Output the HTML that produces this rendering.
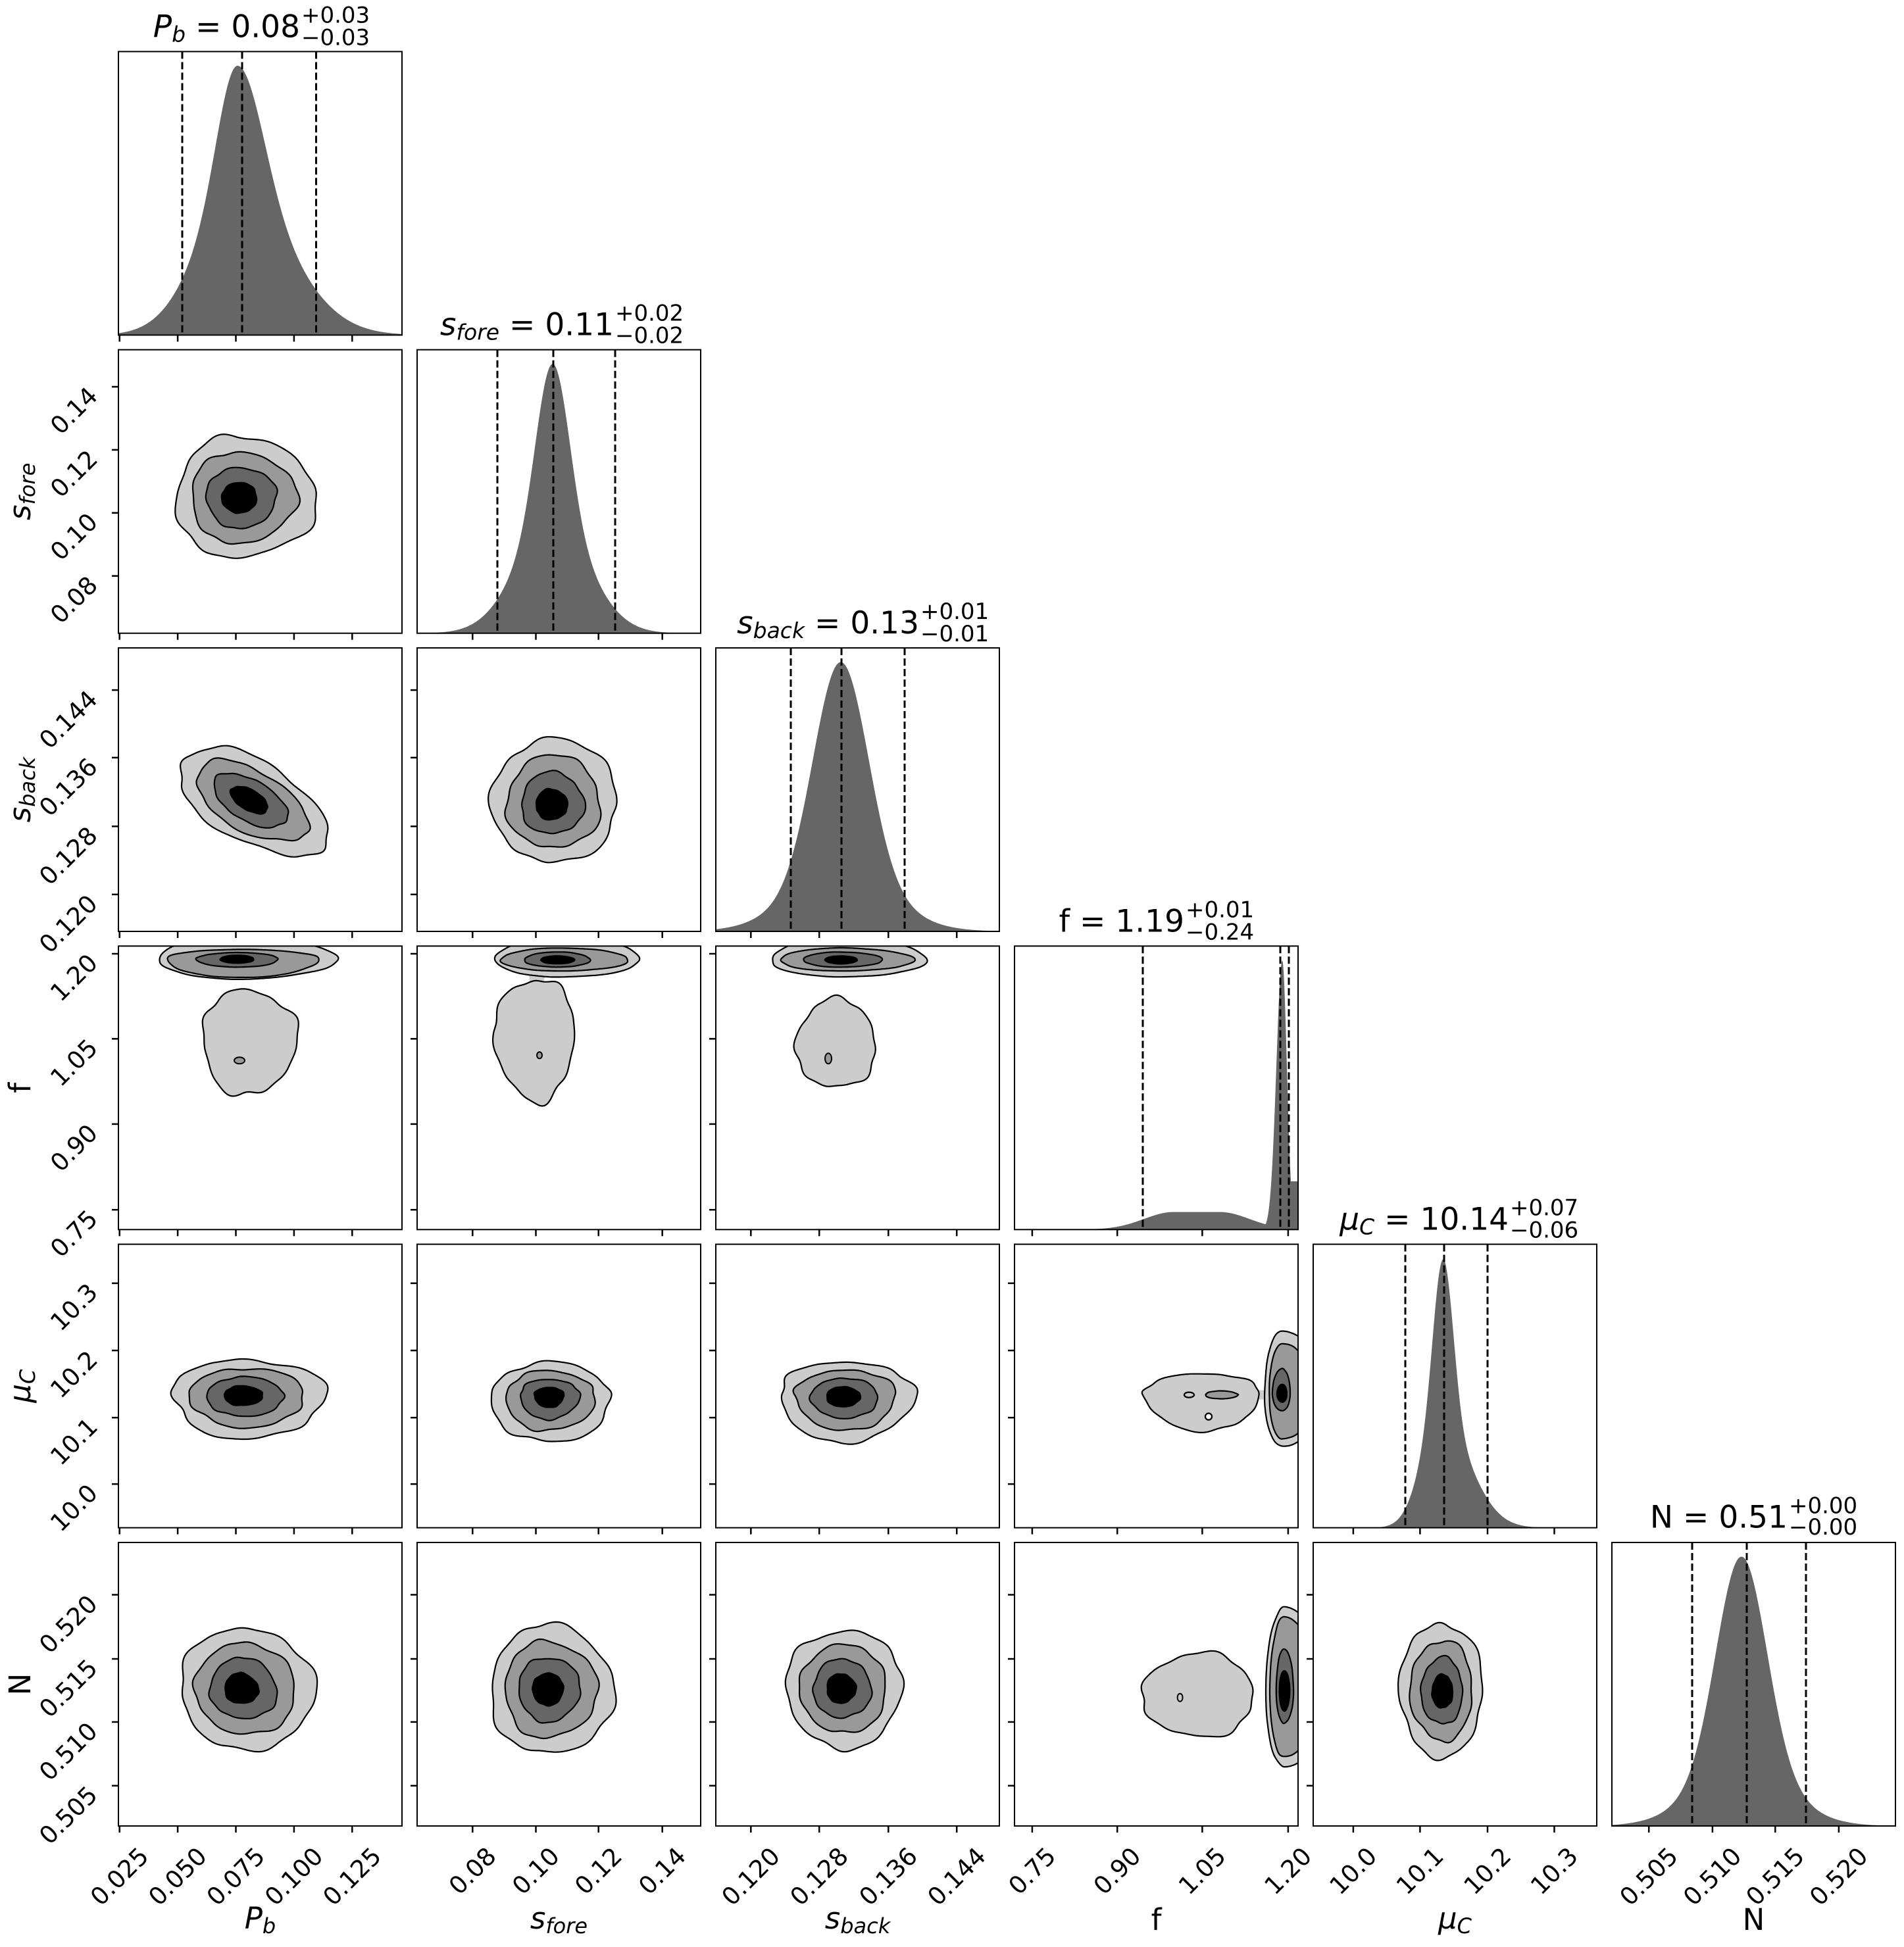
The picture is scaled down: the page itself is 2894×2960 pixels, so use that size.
<!DOCTYPE html>
<html><head><meta charset="utf-8"><style>
body{margin:0;background:#fff}
svg text{font-family:"DejaVu Sans","Liberation Sans",sans-serif;fill:#000}
.t{font-size:37px}
.m{font-size:47px}
.sc{font-size:34px}
.al{font-size:45px}
</style></head>
<body>
<svg id="s" width="2894" height="2955" viewBox="0 0 2894 2955" xmlns="http://www.w3.org/2000/svg">
<rect width="2894" height="2955" fill="#fff"/>
<defs id="defs"></defs>
<g id="g"></g>

<text class="m" x="456" y="56.4" text-anchor="end"><tspan font-style="italic">P</tspan><tspan font-size="33" dy="7" font-style="italic">b</tspan><tspan dy="-7"> = 0.08</tspan></text>
<text class="sc" x="458" y="34.4">+0.03</text><text class="sc" x="458" y="68.4">−0.03</text>

<text class="m" x="933" y="509.7" text-anchor="end"><tspan font-style="italic">s</tspan><tspan font-size="33" dy="7" font-style="italic">fore</tspan><tspan dy="-7"> = 0.11</tspan></text>
<text class="sc" x="935" y="487.7">+0.02</text><text class="sc" x="935" y="521.7">−0.02</text>

<text class="m" x="1397" y="963" text-anchor="end"><tspan font-style="italic">s</tspan><tspan font-size="33" dy="7" font-style="italic">back</tspan><tspan dy="-7"> = 0.13</tspan></text>
<text class="sc" x="1399" y="941">+0.01</text><text class="sc" x="1399" y="975">−0.01</text>

<text class="m" x="1800" y="1416.3" text-anchor="end">f = 1.19</text>
<text class="sc" x="1802" y="1394.3">+0.01</text><text class="sc" x="1802" y="1428.3">−0.24</text>

<text class="m" x="2293" y="1869.6" text-anchor="end"><tspan font-style="italic">μ</tspan><tspan font-size="33" dy="7" font-style="italic">C</tspan><tspan dy="-7"> = 10.14</tspan></text>
<text class="sc" x="2295" y="1847.6">+0.07</text><text class="sc" x="2295" y="1881.6">−0.06</text>

<text class="m" x="2717" y="2322.5" text-anchor="end">N = 0.51</text>
<text class="sc" x="2719" y="2300.5">+0.00</text><text class="sc" x="2719" y="2333">−0.00</text>

<g class="t" text-anchor="middle" dominant-baseline="central">
<text transform="translate(181.7,2853) rotate(-45)">0.025</text>
<text transform="translate(270.1,2853) rotate(-45)">0.050</text>
<text transform="translate(358.5,2853) rotate(-45)">0.075</text>
<text transform="translate(446.9,2853) rotate(-45)">0.100</text>
<text transform="translate(535.3,2853) rotate(-45)">0.125</text>
<text transform="translate(718.3,2844.5) rotate(-45)">0.08</text>
<text transform="translate(814.5,2844.5) rotate(-45)">0.10</text>
<text transform="translate(909.7,2844.5) rotate(-45)">0.12</text>
<text transform="translate(1006.7,2844.5) rotate(-45)">0.14</text>
<text transform="translate(1141.3,2853) rotate(-45)">0.120</text>
<text transform="translate(1245.2,2853) rotate(-45)">0.128</text>
<text transform="translate(1350.3,2853) rotate(-45)">0.136</text>
<text transform="translate(1454.2,2853) rotate(-45)">0.144</text>
<text transform="translate(1568.9,2844.5) rotate(-45)">0.75</text>
<text transform="translate(1698.2,2844.5) rotate(-45)">0.90</text>
<text transform="translate(1827.4,2844.5) rotate(-45)">1.05</text>
<text transform="translate(1957.9,2844.5) rotate(-45)">1.20</text>
<text transform="translate(2056.9,2844.5) rotate(-45)">10.0</text>
<text transform="translate(2158.4,2844.5) rotate(-45)">10.1</text>
<text transform="translate(2261,2844.5) rotate(-45)">10.2</text>
<text transform="translate(2362.5,2844.5) rotate(-45)">10.3</text>
<text transform="translate(2506.2,2853) rotate(-45)">0.505</text>
<text transform="translate(2602.9,2853) rotate(-45)">0.510</text>
<text transform="translate(2698.3,2853) rotate(-45)">0.515</text>
<text transform="translate(2794.9,2853) rotate(-45)">0.520</text>
<text transform="translate(112.5,912.1) rotate(-45)">0.08</text>
<text transform="translate(112.5,816.2) rotate(-45)">0.10</text>
<text transform="translate(112.5,720.4) rotate(-45)">0.12</text>
<text transform="translate(112.5,624.5) rotate(-45)">0.14</text>
<text transform="translate(104,1404.8) rotate(-45)">0.120</text>
<text transform="translate(104,1301.3) rotate(-45)">0.128</text>
<text transform="translate(104,1196.8) rotate(-45)">0.136</text>
<text transform="translate(104,1094.1) rotate(-45)">0.144</text>
<text transform="translate(112.5,1875.7) rotate(-45)">0.75</text>
<text transform="translate(112.5,1745.4) rotate(-45)">0.90</text>
<text transform="translate(112.5,1615.8) rotate(-45)">1.05</text>
<text transform="translate(112.5,1486.5) rotate(-45)">1.20</text>
<text transform="translate(112.5,2292.7) rotate(-45)">10.0</text>
<text transform="translate(112.5,2191.7) rotate(-45)">10.1</text>
<text transform="translate(112.5,2089.6) rotate(-45)">10.2</text>
<text transform="translate(112.5,1987.4) rotate(-45)">10.3</text>
<text transform="translate(104,2759.8) rotate(-45)">0.505</text>
<text transform="translate(104,2662.9) rotate(-45)">0.510</text>
<text transform="translate(104,2567) rotate(-45)">0.515</text>
<text transform="translate(104,2469.5) rotate(-45)">0.520</text>
</g>

<g class="al" text-anchor="middle">
<text x="395.5" y="2932"><tspan font-style="italic">P</tspan><tspan font-size="32" dy="7" font-style="italic">b</tspan></text>
<text x="849.5" y="2932"><tspan font-style="italic">s</tspan><tspan font-size="32" dy="7" font-style="italic">fore</tspan></text>
<text x="1303.5" y="2932"><tspan font-style="italic">s</tspan><tspan font-size="32" dy="7" font-style="italic">back</tspan></text>
<text x="1757.5" y="2934">f</text>
<text x="2211.5" y="2932"><tspan font-style="italic">μ</tspan><tspan font-size="32" dy="7" font-style="italic">C</tspan></text>
<text x="2665.5" y="2934">N</text>
<text transform="translate(46,747.2) rotate(-90)"><tspan font-style="italic">s</tspan><tspan font-size="32" dy="7" font-style="italic">fore</tspan></text>
<text transform="translate(46,1200.5) rotate(-90)"><tspan font-style="italic">s</tspan><tspan font-size="32" dy="7" font-style="italic">back</tspan></text>
<text transform="translate(46,1653.8) rotate(-90)">f</text>
<text transform="translate(46,2107.1) rotate(-90)"><tspan font-style="italic">μ</tspan><tspan font-size="32" dy="7" font-style="italic">C</tspan></text>
<text transform="translate(46,2560.5) rotate(-90)">N</text>
</g>
</svg>
<script>
(function(){
var L=[180,634,1088,1542,1996,2450],T=[78.4,531.7,985,1438.3,1891.6,2345],S=431;
var out='',defs='';
function f1(v){return v.toFixed(1);}
function g(d,s){return Math.exp(-d*d/(2*s*s));}
var H=[
function(x){var d=x-181;var s1=d<0?30:38,s2=d<0?62:80;return .95*(.5*g(d,s1)+.5*g(d,s2));},
function(x){var d=x-206;return .95*(.6*g(d,25)+.4*g(d,55));},
function(x){var d=x-190;return .95*(.8*g(d,41)+.2*g(d,75));},
function(x){var sp=.95*g(x-407,x<407?9:7);var e=Math.max(0,Math.abs(x-277)-35);var b=.062*g(e,45);var v=Math.max(sp,b);if(x>419)v=Math.max(v,.17);return v;},
function(x){var d=x-198;var c=.6*g(d,15);var db=x-192;var br=.4*g(db,db<0?28:45);return .95*(c+br);},
function(x){var d=x-197;return .95*(.8*g(d,38)+.2*g(d,70));}
];
var DASH=[[97,188,300.5],[122,207,301],[114,191,287],[195,404,417],[140,199,265],[122,205,295]];
var XT=[[181.7,270.1,358.5,446.9,535.3],[718.3,814.5,909.7,1006.7],[1141.3,1245.2,1350.3,1454.2],[1568.9,1698.2,1827.4,1957.9],[2056.9,2158.4,2261,2362.5],[2506.2,2602.9,2698.3,2794.9]];
var YT=[null,[343.9,248,152.2,56.3],[374.8,271.3,166.8,64.1],[400.9,270.6,141,11.7],[364.6,263.6,161.5,59.3],[369.8,272.9,177,79.5]];
var COL=['#cccccc','#999999','#666666','#000000'];
function blob(ox,oy,cx,cy,b,rot,w,seed){
 var p=[],cr=Math.cos(rot*Math.PI/180),sr=Math.sin(rot*Math.PI/180);
 for(var i=0;i<240;i++){var th=i/240*2*Math.PI,c=Math.cos(th),s=Math.sin(th);
  var rx=c>=0?b[1]-cx:cx-b[0],ry=s>=0?b[3]-cy:cy-b[2];
  var n=1+w*(0.4*Math.sin(3*th+seed)+0.3*Math.sin(5*th+seed*1.7)+0.2*Math.sin(8*th+seed*2.3)+0.15*Math.sin(11*th+seed*3.1));
  var dx=rx*c*n,dy=ry*s*n;
  p.push(f1(ox+cx+dx*cr-dy*sr)+','+f1(oy+cy+dx*sr+dy*cr));}
 return 'M'+p.join('L')+'Z';
}
function shape(ox,oy,cx,cy,b,rot,w,seed,fill,clip){
 out+='<path d="'+blob(ox,oy,cx,cy,b,rot,w,seed)+'" fill="'+fill+'" stroke="#000" stroke-width="2.2" clip-path="url(#'+clip+')"/>';
}
function levels(r,c,o,cc,rot,w){
 var ox=L[c],oy=T[r],cl='c'+r+'_'+c,fr=[1,.75,.5,.25];
 for(var k=0;k<4;k++){var f=fr[k];
  var b=[cc[0]-f*(cc[0]-o[0]),cc[0]+f*(o[1]-cc[0]),cc[1]-f*(cc[1]-o[2]),cc[1]+f*(o[3]-cc[1])];
  shape(ox,oy,cc[0],cc[1],b,rot,w*(0.7+0.3*f),r*7+c*3+k*1.3,COL[k],cl);}
}
function levelsB(r,c,boxes,cc,w){
 var ox=L[c],oy=T[r],cl='c'+r+'_'+c;
 for(var k=0;k<boxes.length;k++)shape(ox,oy,cc[0],cc[1],boxes[k],0,w,r*5+c*2+k,COL[k],cl);
}
for(var r=0;r<6;r++)for(var c=0;c<=r;c++){
 defs+='<clipPath id="c'+r+'_'+c+'"><rect x="'+L[c]+'" y="'+T[r]+'" width="'+S+'" height="'+S+'"/></clipPath>';
}
for(var i=0;i<6;i++){
 var ox=L[i],oy=T[i],p=['M'+ox+','+(oy+S)];
 for(var x=0;x<=S;x++)p.push('L'+f1(ox+x)+','+f1(oy+S-H[i](x)*S));
 p.push('L'+(ox+S)+','+(oy+S)+'Z');
 out+='<path d="'+p.join('')+'" fill="#666666" clip-path="url(#c'+i+'_'+i+')"/>';
 DASH[i].forEach(function(d){out+='<line x1="'+f1(ox+d)+'" y1="'+oy+'" x2="'+f1(ox+d)+'" y2="'+(oy+S)+'" stroke="#000" stroke-width="3" stroke-dasharray="11 5"/>';});
}
levels(1,0,[87,300,132,317],[181,225],0,.08);
levels(2,0,[82,332,168,292],[197,230],30,.08);
levels(2,1,[114,305,137,325],[203,240],0,.08);
levels(4,0,[83,316,175,295],[187,229],0,.08);
levels(4,1,[113,293,180,302],[200,230],0,.08);
levels(4,2,[98,302,178,300],[192,230],0,.08);
levels(5,0,[95,300,128,312],[184,222],12,.08);
levels(5,1,[112,299,126,322],[197,223],0,.08);
levels(5,2,[108,284,134,313],[189,222],-10,.08);
levels(5,4,[131,257,122,326],[197,227],0,.08);
function dot(r,c,x,y,rx,ry,fill){out+='<ellipse cx="'+f1(L[c]+x)+'" cy="'+f1(T[r]+y)+'" rx="'+rx+'" ry="'+ry+'" fill="'+fill+'" stroke="#000" stroke-width="2"/>';}
shape(L[0],T[3],195,140,[127,271,66,226],0,.1,2,'#cccccc','c3_0');
levelsB(3,0,[[61,332,-12,50],[74,305,5,47.6],[119,243,9.8,32],[155,206,14,26]],[180,20],.03);
dot(3,0,184,174,8,5,'#999999');
out+='<path d="M'+(L[1]+170)+','+(T[3]+44)+'L'+(L[1]+195)+','+(T[3]+44)+'L'+(L[1]+190)+','+(T[3]+62)+'L'+(L[1]+172)+','+(T[3]+62)+'Z" fill="#cccccc"/>';
shape(L[1],T[3],180,130,[118,240,50,235],0,.1,4,'#cccccc','c3_1');
levelsB(3,1,[[120,339,-12,47],[128,322,3,38],[163,263,9,32],[188,239,15,27]],[213,21],.03);
dot(3,1,186,166,4,5,'#999999');
shape(L[2],T[3],183,150,[122,243,81,216],0,.1,6,'#cccccc','c3_2');
levelsB(3,2,[[85,320,-12,47],[98,301,3,38],[133,253,9,32],[166,215,15,27]],[190,21],.03);
dot(3,2,171,171,5,8,'#999999');
out+='<rect x="'+(L[3]+360)+'" y="'+(T[4]+222)+'" width="30" height="14" fill="#cccccc"/>';
shape(L[3],T[4],290,229,[197,372,196,283],0,.07,3,'#cccccc','c4_3');
shape(L[3],T[4],314,229,[290,339,223,235],0,.05,1,'#999999','c4_3');
shape(L[3],T[4],265,229,[258,273,225,233],0,0,1,'#cccccc','c4_3');
shape(L[3],T[4],295,262,[290,300,257,267],0,0,1,'#ffffff','c4_3');
levelsB(4,3,[[380,470,132,307],[387,455,151,296],[392,419,189,253],[399,414,213,240]],[407,228],.02);
shape(L[3],T[5],280,232,[195,364,168,296],0,.09,5,'#cccccc','c5_3');
dot(5,3,251.6,235.7,4,6,'#cccccc');
levelsB(5,3,[[382,470,99.5,342],[388,460,113.7,326.8],[397.7,424,161.8,274.5],[402.6,418.3,195,256]],[410,226],.02);
for(var r=0;r<6;r++)for(var c=0;c<=r;c++){
 out+='<rect x="'+L[c]+'" y="'+T[r]+'" width="'+S+'" height="'+S+'" fill="none" stroke="#000" stroke-width="2"/>';
 XT[c].forEach(function(x){out+='<line x1="'+x+'" y1="'+(T[r]+S)+'" x2="'+x+'" y2="'+(T[r]+S+10)+'" stroke="#000" stroke-width="2.5"/>';});
 if(c<r)YT[r].forEach(function(y){out+='<line x1="'+(L[c]-10)+'" y1="'+f1(T[r]+y)+'" x2="'+L[c]+'" y2="'+f1(T[r]+y)+'" stroke="#000" stroke-width="2.5"/>';});
}
document.getElementById('defs').innerHTML=defs;
document.getElementById('g').innerHTML=out;
})();
</script>
</body></html>
